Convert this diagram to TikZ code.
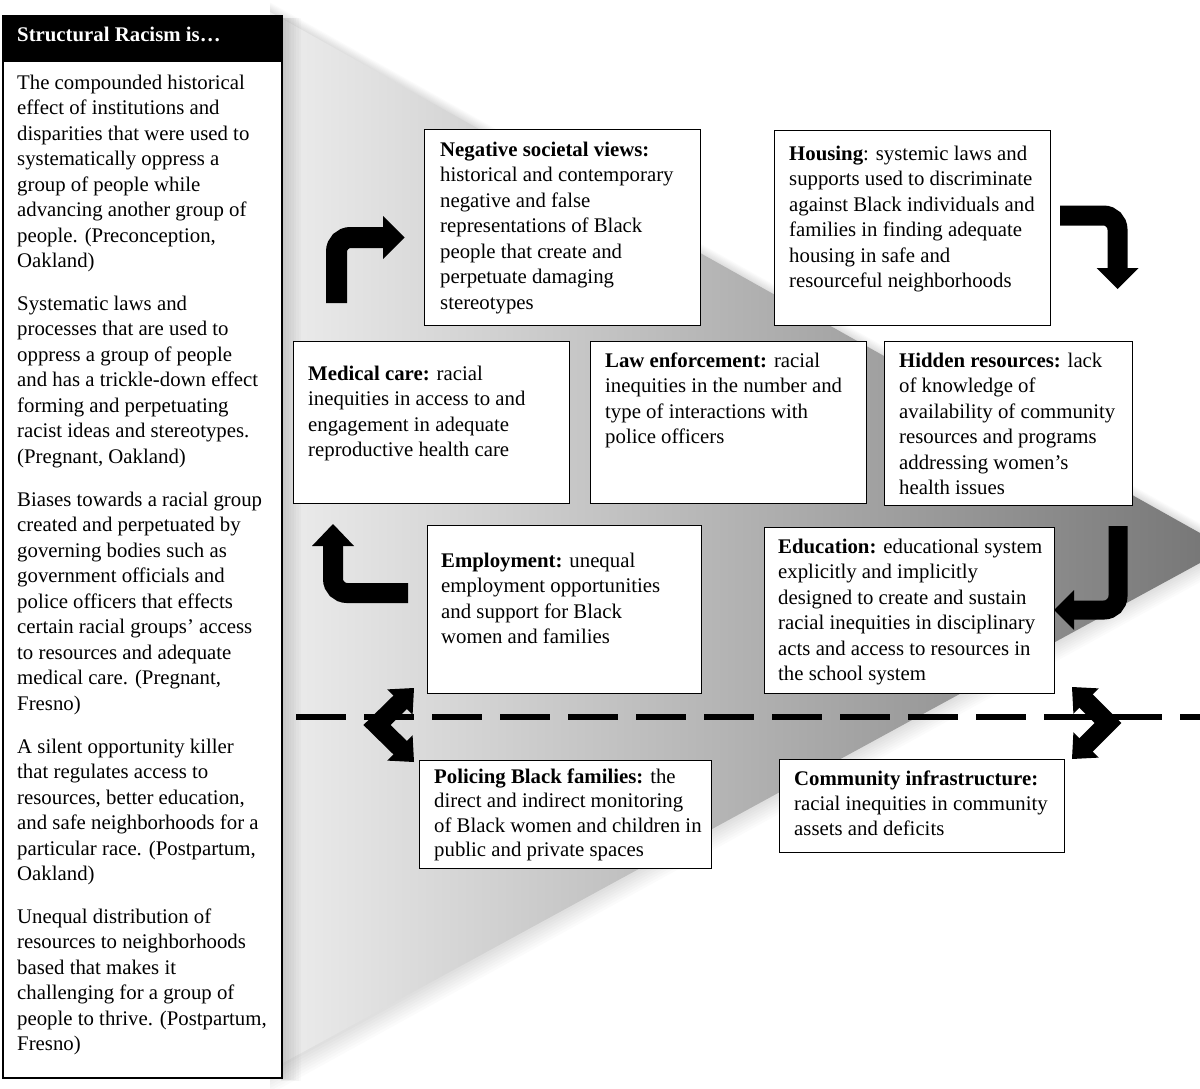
\documentclass[tikz,border=0pt]{standalone}
\usepackage{fontspec}
\setmainfont{Liberation Serif}
\usetikzlibrary{calc}
\definecolor{trilight}{gray}{0.93}
\definecolor{tridark}{gray}{0.47}
\begin{document}
\begin{tikzpicture}[x=1pt,y=-1pt,
  txt/.style={font=\fontsize{20.8}{25.5}\selectfont, align=left, inner sep=0pt, anchor=north west, text=black},
  card/.style={draw=black, line width=1.3pt, fill=white, inner sep=0pt, anchor=north west},
  bent/.style={draw=black, line width=20pt, rounded corners=14pt, line cap=butt},
  chev/.style={draw=black, line width=19pt, line join=miter, line cap=butt},
  dashline/.style={draw=black, line width=6pt, dash pattern=on 50pt off 18pt}]
\useasboundingbox (0,0) rectangle (1200,1089);
% soft shadow of the big wedge
\foreach \k in {2,4,...,16} {
  \fill[black, fill opacity=0.016] (270,12-0.6*\k) -- (1200,533-0.6*\k) -- (1200,563+1.2*\k) -- (270,1070+1.5*\k) -- cycle;
}
% big wedge
\shade[left color=trilight, right color=tridark] (270,12) -- (1200,533) -- (1200,563) -- (270,1070) -- cycle;
% left box shadow
\foreach \k in {1,...,8} {
  \fill[black, fill opacity=0.018] (281,18) rectangle (281+2.5*\k,1078+0.4*\k);
}
% left box
\node[draw=black, line width=1.5pt, fill=white, minimum width=279, minimum height=1062, inner sep=0pt, anchor=north west] (lbox) at (2,15) {};
\node[fill=black, minimum width=279, minimum height=47, inner sep=0pt, anchor=north west] (lhead) at (2,15) {};
\node[font=\fontsize{20.8}{25.5}\selectfont\bfseries, text=white, inner sep=0pt, anchor=base west] (htxt) at (17,42) {Structural Racism is…};
\node[txt] (p1) at (17,71.15) {\strut The compounded historical\\effect of institutions and\\disparities that were used to\\systematically oppress a\\group of people while\\advancing another group of\\people. (Preconception,\\Oakland)};
\node[txt] (p2) at (17,292.15) {\strut Systematic laws and\\processes that are used to\\oppress a group of people\\and has a trickle-down effect\\forming and perpetuating\\racist ideas and stereotypes.\\(Pregnant, Oakland)};
\node[txt] (p3) at (17,488.15) {\strut Biases towards a racial group\\created and perpetuated by\\governing bodies such as\\government officials and\\police officers that effects\\certain racial groups’ access\\to resources and adequate\\medical care. (Pregnant,\\Fresno)};
\node[txt] (p4) at (17,735.15) {\strut A silent opportunity killer\\that regulates access to\\resources, better education,\\and safe neighborhoods for a\\particular race. (Postpartum,\\Oakland)};
\node[txt] (p5) at (17,905.15) {\strut Unequal distribution of\\resources to neighborhoods\\based that makes it\\challenging for a group of\\people to thrive. (Postpartum,\\Fresno)};
% cards
\node[card, minimum width=276, minimum height=196] (neg) at (424,129) {};
\node[txt] (negt) at (440,138.15) {\strut\textbf{Negative societal views:}\\historical and contemporary\\negative and false\\representations of Black\\people that create and\\perpetuate damaging\\stereotypes};
\node[card, minimum width=276, minimum height=195] (hou) at (774,130) {};
\node[txt] (hout) at (789,142.15) {\strut\textbf{Housing}: systemic laws and\\supports used to discriminate\\against Black individuals and\\families in finding adequate\\housing in safe and\\resourceful neighborhoods};
\node[card, minimum width=276, minimum height=162] (med) at (293,341) {};
\node[txt] (medt) at (308,362.15) {\strut\textbf{Medical care:} racial\\inequities in access to and\\engagement in adequate\\reproductive health care};
\node[card, minimum width=276, minimum height=162] (law) at (590,341) {};
\node[txt] (lawt) at (605,349.15) {\strut\textbf{Law enforcement:} racial\\inequities in the number and\\type of interactions with\\police officers};
\node[card, minimum width=248, minimum height=164] (hid) at (884,341) {};
\node[txt] (hidt) at (899,349.15) {\strut\textbf{Hidden resources:} lack\\of knowledge of\\availability of community\\resources and programs\\addressing women’s\\health issues};
\node[card, minimum width=274, minimum height=168] (emp) at (427,525) {};
\node[txt] (empt) at (441,549.15) {\strut\textbf{Employment:} unequal\\employment opportunities\\and support for Black\\women and families};
\node[card, minimum width=290, minimum height=166] (edu) at (764,527) {};
\node[txt] (edut) at (778,535.15) {\strut\textbf{Education:} educational system\\explicitly and implicitly\\designed to create and sustain\\racial inequities in disciplinary\\acts and access to resources in\\the school system};
\node[card, minimum width=292, minimum height=108] (pol) at (419,760) {};
\node[txt, font=\fontsize{20.8}{24.5}\selectfont] (polt) at (434,765.85) {\strut\textbf{Policing Black families:} the\\direct and indirect monitoring\\of Black women and children in\\public and private spaces};
\node[card, minimum width=285, minimum height=93] (com) at (779,759) {};
\node[txt, font=\fontsize{20.8}{25}\selectfont] (comt) at (794,767.5) {\strut\textbf{Community infrastructure:}\\racial inequities in community\\assets and deficits};
% dashed divider
\coordinate (dl) at (296,717);
\coordinate (dr) at (1200,717);
\draw[dashline] (dl) -- (dr);
% bent arrows
\coordinate (a1) at (336.5,303); \coordinate (a2) at (385,237.5);
\draw[bent, line width=21pt] (a1) |- (a2);
\fill[black] (383,216) -- (404.5,237.5) -- (383,259) -- cycle;
\coordinate (b1) at (1060,215.5); \coordinate (b2) at (1117.5,270);
\draw[bent] (b1) -| (b2);
\fill[black] (1096.5,268) -- (1138.5,268) -- (1117.5,289) -- cycle;
\coordinate (c1) at (1118,526); \coordinate (c2) at (1072,610);
\draw[bent, line width=19pt] (c1) |- (c2);
\fill[black] (1074,590) -- (1074,630) -- (1054,610) -- cycle;
\coordinate (d1) at (408,593); \coordinate (d2) at (333,544);
\draw[bent] (d1) -| (d2);
\fill[black] (312,546) -- (354,546) -- (333,524) -- cycle;
% chevron arrows on the divider
\coordinate (ev) at (377,725);
\draw[chev] (402,700.5) -- (ev) -- (402,749.5);
\fill[black] (414,688) -- (412.6,714.8) -- (387.2,689.4) -- cycle;
\fill[black] (414,762) -- (412.6,735.2) -- (387.2,760.6) -- cycle;
\coordinate (fv) at (1108,723);
\draw[chev] (1084.5,699.5) -- (fv) -- (1084.5,746.5);
\fill[black] (1072,687) -- (1098.8,688.4) -- (1073.4,713.8) -- cycle;
\fill[black] (1072,759) -- (1098.8,757.6) -- (1073.4,732.2) -- cycle;
\end{tikzpicture}
\end{document}
